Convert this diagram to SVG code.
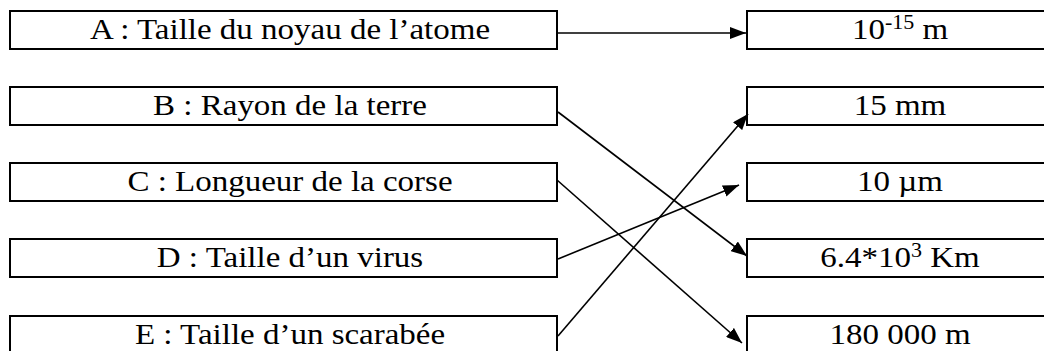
<svg xmlns="http://www.w3.org/2000/svg" width="1044" height="351" viewBox="0 0 1044 351">
  <defs>
    <marker id="arrow" markerWidth="16" markerHeight="12" refX="16" refY="6" orient="auto" markerUnits="userSpaceOnUse">
      <path d="M0,0 L16,6 L0,12 Z" fill="#000"/>
    </marker>
    <style>
      .box { fill: #fff; stroke: #000; stroke-width: 2; }
      .lbl { font-family: "Liberation Serif", "Times New Roman", serif; font-size: 30px; fill: #000; text-anchor: middle; }
      .sup { font-size: 20px; }
      .link { stroke: #000; stroke-width: 1.6; fill: none; marker-end: url(#arrow); }
    </style>
  </defs>

  <rect width="1044" height="351" fill="#fff"/>

  <!-- left column: quantities (labels slightly widened) -->
  <g id="left-A"><rect class="box" x="10" y="11" width="547" height="38"/><text class="lbl" transform="translate(290,39) scale(1.1,1)">A : Taille du noyau de l’atome</text></g>
  <g id="left-B"><rect class="box" x="10" y="87" width="547" height="38"/><text class="lbl" transform="translate(290,115) scale(1.1,1)">B : Rayon de la terre</text></g>
  <g id="left-C"><rect class="box" x="10" y="163" width="547" height="38"/><text class="lbl" transform="translate(290,191) scale(1.1,1)">C : Longueur de la corse</text></g>
  <g id="left-D"><rect class="box" x="10" y="239" width="547" height="38"/><text class="lbl" transform="translate(290,267) scale(1.1,1)">D : Taille d’un virus</text></g>
  <g id="left-E"><rect class="box" x="10" y="316" width="547" height="38"/><text class="lbl" transform="translate(290,344) scale(1.1,1)">E : Taille d’un scarabée</text></g>

  <!-- right column: orders of magnitude -->
  <g id="right-1"><rect class="box" x="747" y="11" width="310" height="38"/><text class="lbl" transform="translate(900,39) scale(1.1,1)">10<tspan class="sup" dy="-10">-15</tspan><tspan dy="10"> m</tspan></text></g>
  <g id="right-2"><rect class="box" x="747" y="87" width="310" height="38"/><text class="lbl" transform="translate(900,115) scale(1.1,1)">15 mm</text></g>
  <g id="right-3"><rect class="box" x="747" y="163" width="310" height="38"/><text class="lbl" transform="translate(900,191) scale(1.1,1)">10 µm</text></g>
  <g id="right-4"><rect class="box" x="747" y="239" width="310" height="38"/><text class="lbl" transform="translate(900,267) scale(1.1,1)">6.4*10<tspan class="sup" dy="-10">3</tspan><tspan dy="10"> Km</tspan></text></g>
  <g id="right-5"><rect class="box" x="747" y="316" width="310" height="38"/><text class="lbl" transform="translate(900,344) scale(1.1,1)">180 000 m</text></g>

  <!-- connectors -->
  <g id="connectors">
    <line class="link" x1="558" y1="33" x2="746" y2="33"/>
    <line class="link" x1="558" y1="112" x2="747" y2="256"/>
    <line class="link" x1="557" y1="180" x2="742" y2="343"/>
    <line class="link" x1="558" y1="259" x2="739" y2="185"/>
    <line class="link" x1="558" y1="336" x2="748" y2="114"/>
  </g>
</svg>
